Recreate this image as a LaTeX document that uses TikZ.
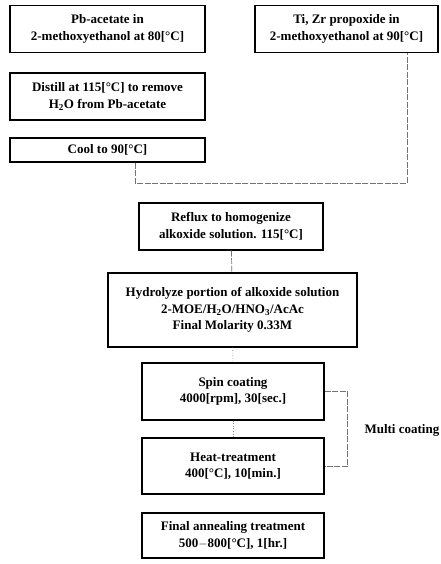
\documentclass[tikz,border=0pt]{standalone}
\usepackage{fontspec}
\setmainfont{Liberation Serif}
\usetikzlibrary{positioning}

\tikzset{
  stepbox/.style={draw, line width=1.2pt, align=center, inner sep=0pt,
    font=\fontsize{13}{16.5}\selectfont\bfseries},
  link/.style={draw=black!55, line width=0.7pt, dash pattern=on 6pt off 1.5pt},
  faint/.style={draw=black!45, line width=0.6pt, dotted}
}

\begin{document}
\begin{tikzpicture}[x=1pt, y=-1pt]
        \useasboundingbox (0,0) rectangle (440,564);
        % left branch
        \node[stepbox, minimum width=195pt, minimum height=47pt] (pb) at (107.5,29)
          {Pb-acetate in\\2-methoxyethanol at 80[°C]};
        \node[stepbox, minimum width=195pt, minimum height=47pt] (distill) at (107.5,96.5)
          {Distill at 115[°C] to remove\\H\textsubscript{2}O from Pb-acetate};
        \node[stepbox, minimum width=195pt, minimum height=24pt] (cool) at (107.5,150)
          {Cool to 90[°C]};
        % right branch
        \node[stepbox, minimum width=183pt, minimum height=47pt] (ti) at (346.5,29)
          {Ti, Zr propoxide in\\2-methoxyethanol at 90[°C]};
        % main line
        \node[stepbox, minimum width=184pt, minimum height=47pt] (reflux) at (231,226.5)
          {Reflux to homogenize\\alkoxide solution. 115[°C]};
        \node[stepbox, minimum width=249pt, minimum height=74pt] (hydro) at (232.5,310)
          {Hydrolyze portion of alkoxide solution\\2-MOE/H\textsubscript{2}O/HNO\textsubscript{3}/AcAc\\Final Molarity 0.33M};
        \node[stepbox, minimum width=182pt, minimum height=57pt] (spin) at (233,391.5)
          {Spin coating\\4000[rpm], 30[sec.]};
        \node[stepbox, minimum width=182pt, minimum height=56pt] (heat) at (233,466)
          {Heat-treatment\\400[°C], 10[min.]};
        \node[stepbox, minimum width=182pt, minimum height=45pt] (final) at (233,535.5)
          {Final annealing treatment\\500$-$800[°C], 1[hr.]};
        \node[anchor=west, font=\fontsize{13}{16.5}\selectfont\bfseries] (multi) at (361,430)
          {Multi coating};

        % joining the two branches
        \coordinate (j1) at (135,183);
        \coordinate (j2) at (407,183);
        \draw[link] (cool.south -| j1) -- (j1) -- (j2) -- (ti.south -| j2);
        \draw[link] (reflux) -- (hydro);
        \draw[faint] (hydro) -- (spin);
        \draw[faint] (spin) -- (heat);
        % multi coating loop
        \draw[link] (spin.east) -- ++(23,0) |- (heat.east);
\end{tikzpicture}
\end{document}
